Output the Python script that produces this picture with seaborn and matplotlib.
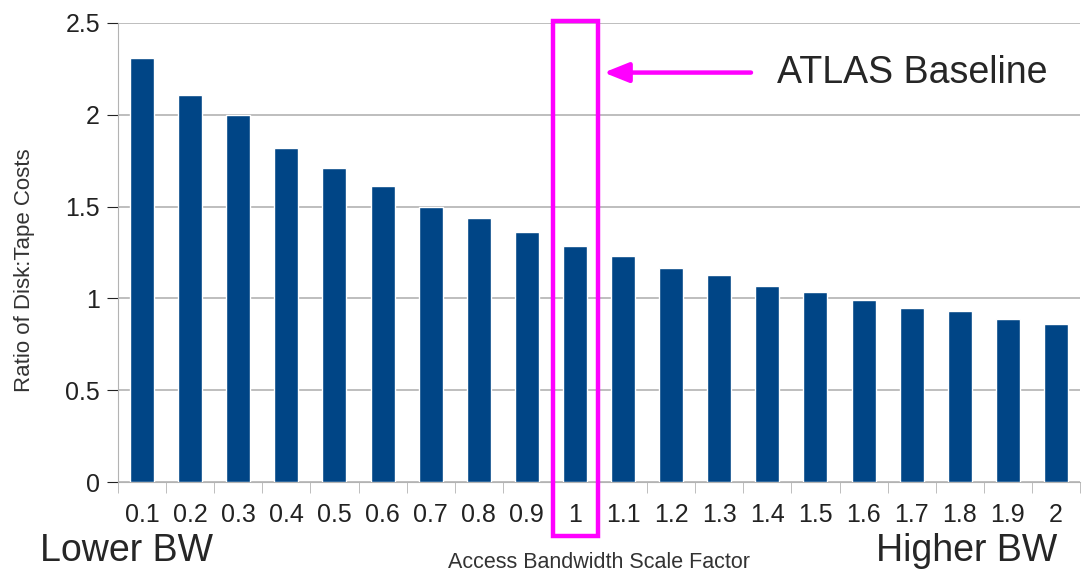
import seaborn as sns
import matplotlib.pyplot as plt
import matplotlib.transforms as mtransforms
from matplotlib.patches import Rectangle
import pandas as pd

scale_factors = ['0.1', '0.2', '0.3', '0.4', '0.5', '0.6', '0.7', '0.8', '0.9', '1',
                 '1.1', '1.2', '1.3', '1.4', '1.5', '1.6', '1.7', '1.8', '1.9', '2']
cost_ratio = [2.31, 2.11, 2.00, 1.82, 1.71, 1.61, 1.50, 1.44, 1.36, 1.285,
              1.23, 1.165, 1.13, 1.07, 1.035, 0.99, 0.95, 0.93, 0.89, 0.86]
baseline = '1'

df = pd.DataFrame({'factor': scale_factors, 'ratio': cost_ratio})

sns.set_style('white')
plt.rcParams['font.family'] = ['Liberation Sans', 'DejaVu Sans']

W, H = 1086, 574
fig = plt.figure(figsize=(W / 100, H / 100), dpi=100)
ax = fig.add_axes([118 / W, 1 - 482 / H, (1080 - 118) / W, (482 - 23) / H])

sns.barplot(data=df, x='factor', y='ratio', color='#004586', width=0.5,
            saturation=1, ax=ax, zorder=3)

ax.set_ylim(0, 2.5)
ax.set_xlim(-0.5, len(scale_factors) - 0.5)
ax.set_yticks([0, 0.5, 1, 1.5, 2, 2.5])
ax.set_yticklabels(['0', '0.5', '1', '1.5', '2', '2.5'])
ax.yaxis.grid(True, color='#b3b3b3', lw=1.2, zorder=0)
for s in ['top', 'right']:
    ax.spines[s].set_visible(False)
ax.spines['left'].set_color('#b3b3b3')
ax.spines['bottom'].set_color('#b3b3b3')
ax.tick_params(axis='y', length=8, color='#b3b3b3', labelsize=18, pad=5, left=True)
ax.tick_params(axis='x', which='major', length=0, labelsize=18, pad=15, colors='#222222')
ax.set_xticks([i - 0.5 for i in range(len(scale_factors) + 1)], minor=True)
ax.tick_params(axis='x', which='minor', length=8, color='#b3b3b3', bottom=True)
ax.tick_params(axis='y', colors='#222222')

ax.set_ylabel('Ratio of Disk:Tape Costs', fontsize=16, color='#333333')
ax.yaxis.set_label_coords(-0.086, 0.462)
ax.set_xlabel('Access Bandwidth Scale Factor', fontsize=15.5, color='#333333', labelpad=18)

# baseline highlight
bi = scale_factors.index(baseline)
trans = mtransforms.blended_transform_factory(ax.transData, ax.transAxes)
ax.add_patch(Rectangle((bi - 0.46, -0.118), 0.94, 1.122, transform=trans,
                       fill=False, edgecolor='#ff00ff', lw=3.2, clip_on=False,
                       zorder=5))
ax.annotate('', xy=(bi + 0.6, 2.23), xytext=(bi + 3.66, 2.23),
            arrowprops=dict(arrowstyle='-|>,head_length=1.5,head_width=0.6',
                            color='#ff00ff', lw=3.2, shrinkA=0, shrinkB=0),
            annotation_clip=False)
ax.text(bi + 4.2, 2.23, 'ATLAS Baseline', fontsize=27, va='center', ha='left')

fig.text(40 / W, 1 - 551 / H, 'Lower BW', fontsize=27, va='center', ha='left')
fig.text(1057 / W, 1 - 551 / H, 'Higher BW', fontsize=27, va='center', ha='right')

fig.savefig('out.png', dpi=100)
